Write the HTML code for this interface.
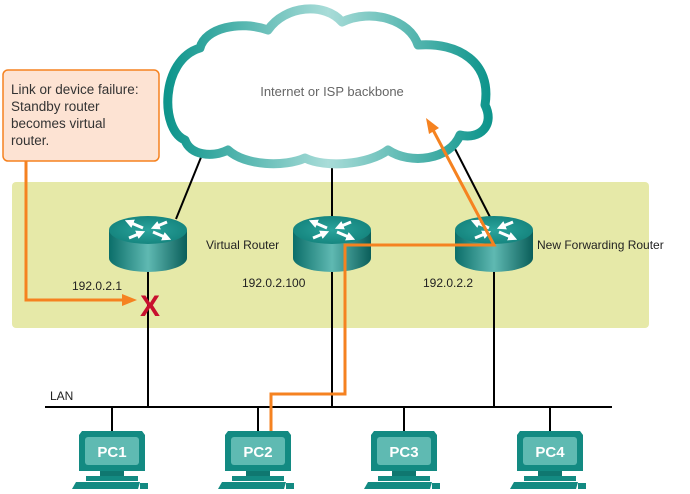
<!DOCTYPE html>
<html><head><style>
body{margin:0;background:#fff;}
svg{display:block;font-family:"Liberation Sans",sans-serif;}
</style></head><body>
<svg width="690" height="494" viewBox="0 0 690 494">
<defs>
<linearGradient id="rb" x1="0" x2="1">
<stop offset="0" stop-color="#0b6e69"/><stop offset="0.5" stop-color="#5fb9b2"/><stop offset="1" stop-color="#0a5e5a"/>
</linearGradient>
<radialGradient id="rt" cx="0.5" cy="0.5" r="0.6"><stop offset="0" stop-color="#2aa49c"/><stop offset="1" stop-color="#12807a"/></radialGradient>
<linearGradient id="cg" x1="0" x2="1">
<stop offset="0" stop-color="#0e958c"/><stop offset="0.5" stop-color="#a8dcd8"/><stop offset="1" stop-color="#0e958c"/>
</linearGradient>
<marker id="ah" viewBox="0 0 6 6" refX="3" refY="3" markerWidth="3" markerHeight="3" orient="auto"><path d="M0,0 L6,3 L0,6 Z" fill="#fff"/></marker>
<g id="router">
<path d="M-39,0 L-39,28 A39,14 0 0 0 39,28 L39,0 Z" fill="url(#rb)"/>
<ellipse cx="0" cy="0" rx="39" ry="14" fill="url(#rt)"/>
<g stroke="#fff" stroke-width="3" marker-end="url(#ah)">
<line x1="-5" y1="-2" x2="-19" y2="-8"/>
<line x1="5" y1="2" x2="19" y2="8"/>
<line x1="19" y1="-8" x2="7" y2="-3"/>
<line x1="-19" y1="8" x2="-7" y2="3"/>
</g>
</g>
<g id="pc">
<path d="M-30,0 L30,0 L33,4 L33,40 L-33,40 L-33,4 Z" fill="#138a82"/>
<rect x="-27" y="6" width="54" height="28" rx="3" fill="#5fbab2"/>
<rect x="-12" y="40" width="24" height="5" fill="#0f7770"/>
<rect x="-26" y="45" width="52" height="5" fill="#138a82"/>
<path d="M-36,51 L28,51 L26,58 L-40,58 Z" fill="#138a82"/>
<rect x="28" y="52" width="8" height="6" fill="#138a82"/>
</g>
</defs>
<rect x="12" y="182" width="637" height="146" rx="4" fill="#e6e9a8"/>
<g stroke="#000" stroke-width="2">
<line x1="206" y1="145" x2="176" y2="219"/>
<line x1="332" y1="160" x2="332" y2="218"/>
<line x1="452" y1="143" x2="490" y2="217"/>
</g>
<!-- cloud -->
<path d="M185,140 C160,130 160,60 200,48 C205,28 240,20 268,30 C285,5 325,2 342,22 C372,8 410,20 418,45 C458,42 492,62 485,105 C495,125 480,140 460,135 C450,160 410,165 388,150 C368,165 325,168 305,158 C285,167 245,166 228,150 C212,158 190,155 185,140 Z" fill="#fff" stroke="url(#cg)" stroke-width="9" stroke-linejoin="round"/>
<text x="332" y="96" font-size="13" fill="#666" text-anchor="middle">Internet or ISP backbone</text>
<g stroke="#000" stroke-width="2">
<line x1="148" y1="268" x2="148" y2="407"/>
<line x1="332" y1="268" x2="332" y2="407"/>
<line x1="494" y1="268" x2="494" y2="407"/>
<line x1="45" y1="407" x2="612" y2="407"/>
<line x1="112" y1="407" x2="112" y2="432"/>
<line x1="258" y1="407" x2="258" y2="432"/>
<line x1="404" y1="407" x2="404" y2="432"/>
<line x1="550" y1="407" x2="550" y2="432"/>
</g>
<use href="#router" x="148" y="230"/>
<use href="#router" x="332" y="230"/>
<use href="#router" x="494" y="230"/>
<g font-size="12" fill="#222">
<text x="206" y="249">Virtual Router</text>
<text x="537" y="249">New Forwarding Router</text>
<text x="72" y="290">192.0.2.1</text>
<text x="242" y="287">192.0.2.100</text>
<text x="423" y="287">192.0.2.2</text>
<text x="50" y="400">LAN</text>
</g>
<use href="#pc" x="112" y="431"/>
<use href="#pc" x="258" y="431"/>
<use href="#pc" x="404" y="431"/>
<use href="#pc" x="550" y="431"/>
<g font-size="15" font-weight="bold" fill="#fff" text-anchor="middle">
<text x="112" y="457">PC1</text><text x="258" y="457">PC2</text><text x="404" y="457">PC3</text><text x="550" y="457">PC4</text>
</g>
<g fill="none" stroke="#f58220" stroke-width="3">
<polyline points="26,160 26,300 125,300"/>
<polyline points="271,431 271,394 345,394 345,245 494,245 432,128"/>
</g>
<polygon points="137,300 122,294 122,306" fill="#f58220"/>
<polygon points="426,118 429,134 439,128" fill="#f58220"/>
<text x="150" y="316" font-size="30" font-weight="bold" fill="#c8102e" text-anchor="middle">X</text>
<rect x="3" y="70" width="156" height="91" rx="5" fill="#fde3d3" stroke="#f58220" stroke-width="1.5"/>
<g font-size="13.5" fill="#333">
<text x="11" y="94">Link or device failure:</text>
<text x="11" y="111">Standby router</text>
<text x="11" y="128">becomes virtual</text>
<text x="11" y="145">router.</text>
</g>
</svg>
</body></html>
